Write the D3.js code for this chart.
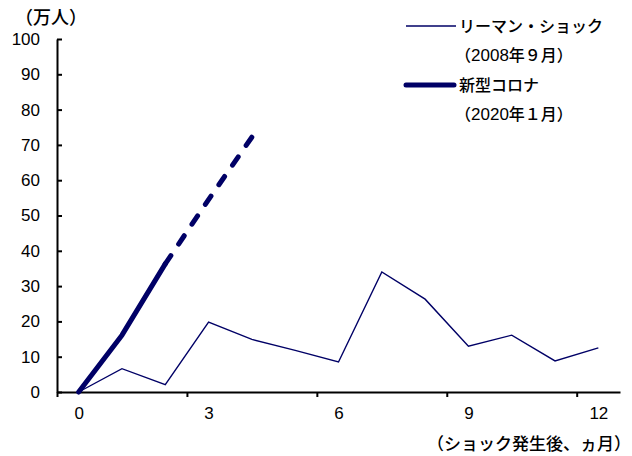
<!DOCTYPE html>
<html>
<head>
<meta charset="utf-8">
<script src="https://cdn.jsdelivr.net/npm/d3@7"></script>
<style>
  html, body { margin: 0; padding: 0; background: #fff; }
  text { font-family: "Noto Sans CJK JP", "Liberation Sans", sans-serif; fill: #000; }
  .jp { font-weight: 500; }
  .num { font-family: "Liberation Sans", sans-serif; font-weight: 400; }
</style>
</head>
<body>
<svg id="chart" width="632" height="456"></svg>
<script>
// Months after the shock (category axis 0..12)
const months = [0, 1, 2, 3, 4, 5, 6, 7, 8, 9, 10, 11, 12];
// Lehman shock (Sep 2008), change in 万人
const lehman = [0, 6.6, 2.1, 19.8, 14.9, 11.8, 8.5, 34.0, 26.3, 13.0, 16.1, 8.8, 12.5];
// COVID-19 (Jan 2020): months 0-2 observed, 2-4 projected (dashed)
const coronaMonths = [0, 1, 2, 3, 4];
const corona = [0, 16.1, 36.3, 54.5, 72.2];
const solidUntil = 2;
const yTicks = [0, 10, 20, 30, 40, 50, 60, 70, 80, 90, 100];
const xTickLabels = [0, 3, 6, 9, 12];
// legend: name, then the date line split so the year uses the numeral font
const legendLabels = [
  ["リーマン・ショック", "（", "2008", "年９月）"],
  ["新型コロナ", "（", "2020", "年１月）"]
];

const navy = "#000066";
const svg = d3.select("#chart");

const x = d3.scaleLinear().domain([-0.5, 12.5]).range([57, 620]);
const y = d3.scaleLinear().domain([0, 100]).range([392, 39]);

// Y axis: ticks point into the plot
const yAxis = svg.append("g").attr("transform", "translate(57,0)")
  .call(d3.axisLeft(y).tickValues(yTicks).tickSizeInner(-5).tickSizeOuter(0).tickPadding(17));
yAxis.selectAll("path, line").attr("stroke", "#000").attr("stroke-width", 2);
yAxis.selectAll("text").attr("class", "num").attr("font-size", 17);

// X axis: tick marks on category boundaries, labels on category centres
const xAxis = svg.append("g").attr("transform", "translate(0,392)")
  .call(d3.axisBottom(x).tickValues(xTickLabels.map(d => d - 0.5)).tickSizeInner(5).tickSizeOuter(0).tickFormat(""));
xAxis.selectAll("path, line").attr("stroke", "#000").attr("stroke-width", 2);
const xLab = svg.append("g").attr("transform", "translate(0,392)")
  .call(d3.axisBottom(x).tickValues(xTickLabels).tickSize(0).tickPadding(15));
xLab.select(".domain").remove();
xLab.selectAll("text").attr("class", "num").attr("font-size", 17);

// Unit and axis titles
svg.append("text").attr("class", "jp").attr("x", 15).attr("y", 24).attr("font-size", 18).text("（万人）");
svg.append("text").attr("class", "jp").attr("x", 631).attr("y", 450).attr("text-anchor", "end").attr("font-size", 17)
  .text("（ショック発生後、ヵ月）");

const line = d3.line().x(d => x(d[0])).y(d => y(d[1]));

// Lehman series
svg.append("path")
  .datum(months.map((m, i) => [m, lehman[i]]))
  .attr("d", line).attr("fill", "none").attr("stroke", navy).attr("stroke-width", 1.4)
  .attr("stroke-linejoin", "miter");

// COVID series: solid then dashed
const cPts = coronaMonths.map((m, i) => [m, corona[i]]);
svg.append("path")
  .datum(cPts.slice(0, solidUntil + 1))
  .attr("d", line).attr("fill", "none").attr("stroke", navy).attr("stroke-width", 5)
  .attr("stroke-linecap", "round").attr("stroke-linejoin", "round");
svg.append("path")
  .datum(cPts.slice(solidUntil))
  .attr("d", line).attr("fill", "none").attr("stroke", navy).attr("stroke-width", 5)
  .attr("stroke-linecap", "round").attr("stroke-dasharray", "10,13.9");

// Legend
const lg = svg.append("g");
lg.append("line").attr("x1", 406).attr("x2", 456).attr("y1", 26).attr("y2", 26)
  .attr("stroke", navy).attr("stroke-width", 1.4);
lg.append("line").attr("x1", 406).attr("x2", 454).attr("y1", 85).attr("y2", 85)
  .attr("stroke", navy).attr("stroke-width", 5).attr("stroke-linecap", "round");
[[0, 26], [1, 85]].forEach(([k, cy]) => {
  const lab = legendLabels[k];
  lg.append("text").attr("class", "jp").attr("x", 459).attr("y", cy + 6).attr("font-size", 16).text(lab[0]);
  const t = lg.append("text").attr("class", "jp").attr("x", 455).attr("y", cy + 35).attr("font-size", 16);
  t.append("tspan").text(lab[1]);
  t.append("tspan").attr("class", "num").attr("font-size", 17).text(lab[2]);
  t.append("tspan").text(lab[3]);
});
</script>
</body>
</html>
